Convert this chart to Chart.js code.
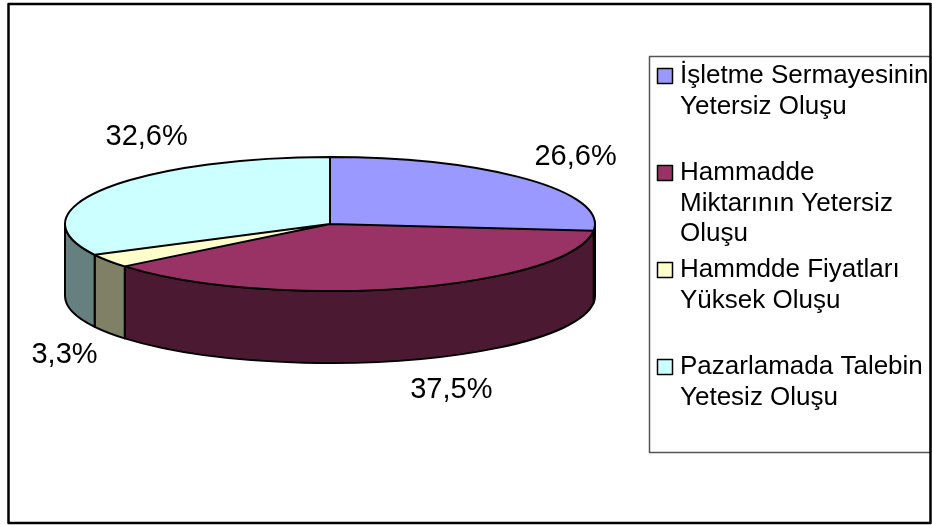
<!DOCTYPE html>
<html>
<head>
<meta charset="utf-8">
<script src="https://cdn.jsdelivr.net/npm/chart.js@4.4.1/dist/chart.umd.min.js"></script>
<style>
  html, body { margin: 0; padding: 0; background: #fff; }
  canvas { display: block; }
</style>
</head>
<body>
<canvas id="pie" width="932" height="525"></canvas>
<script>
// data
var categories = [
  ["İşletme Sermayesinin", "Yetersiz Oluşu"],
  ["Hammadde", "Miktarının Yetersiz", "Oluşu"],
  ["Hammdde Fiyatları", "Yüksek Oluşu"],
  ["Pazarlamada Talebin", "Yetesiz Oluşu"]
];
var shares = [26.6, 37.5, 3.3, 32.6];

var topColors = ["#9999FF", "#993366", "#FFFFCC", "#CCFFFF"];
var sideColors = ["#4D4D80", "#4C1933", "#808066", "#668080"];
// where each percent label sits, relative to the rim point of its slice
var labelNudge = [[49, -22], [45, 30], [-44, 22], [43, -52]];

var DEPTH = 72;
var FONT = "'Liberation Sans', Arial, sans-serif";

function ellipseOf(chart) {
  var a = chart.chartArea;
  var rx = (a.right - a.left) / 2;
  var ry = (a.bottom - a.top - DEPTH) / 2;
  return { cx: a.left + rx, cy: a.top + ry, rx: rx, ry: ry };
}

// maps the flat pie drawn by Chart.js onto the tilted top face
function squash(ctx, e, arc) {
  ctx.translate(e.cx, e.cy);
  ctx.scale(e.rx / arc.outerRadius, e.ry / arc.outerRadius);
  ctx.translate(-arc.x, -arc.y);
}

function fmt(v) {
  return v.toFixed(1).replace(".", ",") + "%";
}

var pie3d = {
  id: "pie3d",
  beforeDraw: function (chart) {
    var ctx = chart.ctx;
    ctx.save();
    ctx.fillStyle = "#fff";
    ctx.fillRect(0, 0, chart.width, chart.height);
    ctx.restore();
  },
  beforeDatasetsDraw: function (chart) {
    var ctx = chart.ctx;
    var e = ellipseOf(chart);
    var arcs = chart.getDatasetMeta(0).data;

    // front walls
    ctx.save();
    ctx.lineWidth = 2;
    ctx.strokeStyle = "#000";
    ctx.lineJoin = "round";
    arcs.forEach(function (arc, i) {
      var s = Math.max(arc.startAngle, 0);
      var t = Math.min(arc.endAngle, Math.PI);
      if (s >= t) return;
      ctx.beginPath();
      ctx.ellipse(e.cx, e.cy, e.rx, e.ry, 0, s, t, false);
      ctx.lineTo(e.cx + e.rx * Math.cos(t), e.cy + DEPTH + e.ry * Math.sin(t));
      ctx.ellipse(e.cx, e.cy + DEPTH, e.rx, e.ry, 0, t, s, true);
      ctx.closePath();
      ctx.fillStyle = sideColors[i];
      ctx.fill();
      ctx.stroke();
    });
    ctx.restore();

    ctx.save();
    squash(ctx, e, arcs[0]);
  },
  afterDatasetsDraw: function (chart) {
    var ctx = chart.ctx;
    ctx.restore();
    var e = ellipseOf(chart);
    var arcs = chart.getDatasetMeta(0).data;

    // outlines of the top face, built squashed but stroked with an even pen
    ctx.save();
    squash(ctx, e, arcs[0]);
    ctx.beginPath();
    arcs.forEach(function (arc) {
      ctx.moveTo(arc.x, arc.y);
      ctx.arc(arc.x, arc.y, arc.outerRadius, arc.startAngle, arc.endAngle);
      ctx.closePath();
    });
    ctx.restore();
    ctx.save();
    ctx.lineWidth = 2;
    ctx.strokeStyle = "#000";
    ctx.lineJoin = "round";
    ctx.stroke();

    // percent labels
    ctx.fillStyle = "#000";
    ctx.font = "29px " + FONT;
    ctx.textAlign = "center";
    ctx.textBaseline = "middle";
    var values = chart.data.datasets[0].data;
    arcs.forEach(function (arc, i) {
      var mid = (arc.startAngle + arc.endAngle) / 2;
      var x = e.cx + e.rx * Math.cos(mid);
      var y = e.cy + e.ry * Math.sin(mid) + (Math.sin(mid) > 0 ? DEPTH : 0);
      ctx.fillText(fmt(values[i]), x + labelNudge[i][0], y + labelNudge[i][1]);
    });

    // legend
    ctx.lineWidth = 1.5;
    ctx.strokeStyle = "#555";
    ctx.strokeRect(649.5, 56.5, 281, 396);
    ctx.font = "26px " + FONT;
    ctx.textAlign = "left";
    ctx.textBaseline = "alphabetic";
    chart.data.labels.forEach(function (lines, i) {
      var base = 83 + i * 97;
      ctx.fillStyle = topColors[i];
      ctx.fillRect(657.5, base - 14.5, 15, 15);
      ctx.strokeStyle = "#000";
      ctx.lineWidth = 1.5;
      ctx.strokeRect(657.5, base - 14.5, 15, 15);
      ctx.fillStyle = "#000";
      lines.forEach(function (line, k) {
        ctx.fillText(line, 680, base + k * 30.5);
      });
    });

    // chart frame
    ctx.strokeStyle = "#000";
    ctx.lineWidth = 2.5;
    ctx.strokeRect(8.5, 4, 922, 519);
    ctx.restore();
  }
};

new Chart(document.getElementById("pie"), {
  type: "pie",
  data: {
    labels: categories,
    datasets: [{
      data: shares,
      backgroundColor: topColors,
      borderWidth: 0,
      clip: false
    }]
  },
  options: {
    responsive: false,
    animation: false,
    devicePixelRatio: 1,
    events: [],
    layout: { padding: { left: 65, right: 337, top: 157, bottom: 162 } },
    plugins: {
      legend: { display: false },
      tooltip: { enabled: false }
    }
  },
  plugins: [pie3d]
});
</script>
</body>
</html>
